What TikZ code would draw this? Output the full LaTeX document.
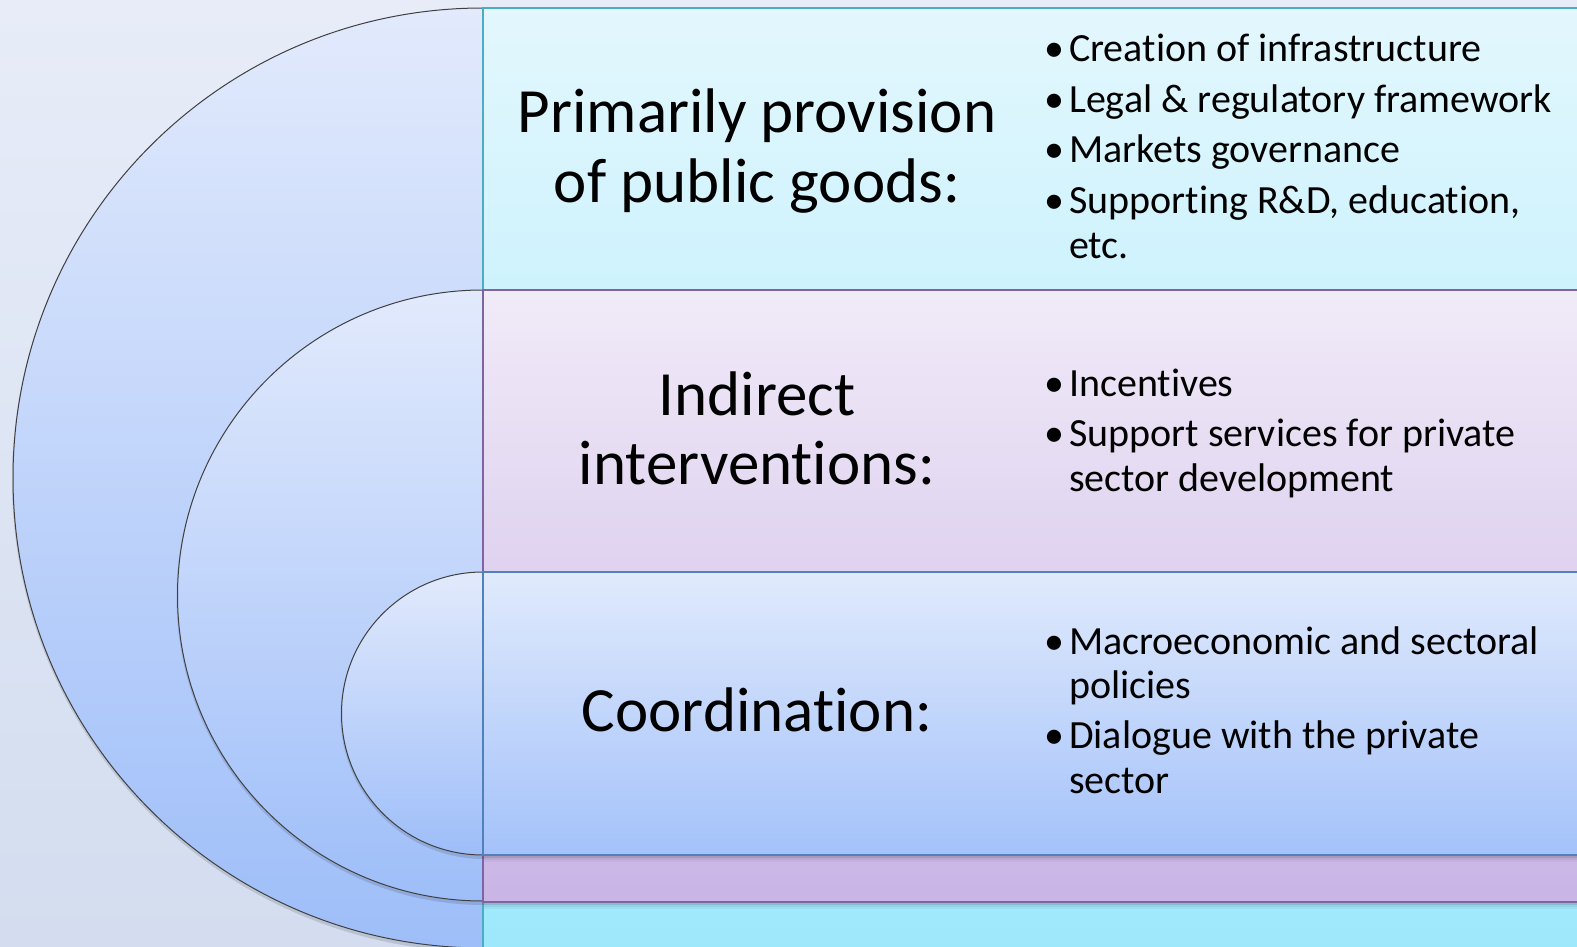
\documentclass[tikz,border=0pt]{standalone}
\usepackage{fontspec}
\setmainfont{Carlito}[Ligatures={NoCommon,NoRare,NoContextual}, RawFeature={-liga,-clig,-dlig}]
\definecolor{bgtop}{RGB}{231,236,248}
\definecolor{bgbot}{RGB}{211,221,239}
\definecolor{discTop}{RGB}{226,234,252}
\definecolor{discBot}{RGB}{158,190,249}
\definecolor{cyanTop}{RGB}{227,247,253}
\definecolor{cyanBot}{RGB}{157,232,252}
\definecolor{cyanLine}{RGB}{75,172,198}
\definecolor{purpTop}{RGB}{241,235,248}
\definecolor{purpBot}{RGB}{201,181,230}
\definecolor{purpLine}{RGB}{128,100,162}
\definecolor{blueTop}{RGB}{224,234,252}
\definecolor{blueBot}{RGB}{164,194,250}
\definecolor{blueLine}{RGB}{79,129,189}
\begin{document}
\begin{tikzpicture}[x=1pt,y=-1pt,
  title/.style={anchor=base, inner sep=0pt, font=\fontsize{63}{69}\selectfont},
  item/.style={anchor=base west, inner sep=0pt, font=\fontsize{40}{44}\selectfont},
  arcline/.style={draw=black!75, line width=1pt},
  arcshadow/.style={draw=black, opacity=0.12, line width=4pt},
  band/.style={line width=1.6pt},
  sh1/.style={draw=black, opacity=0.18, line width=2pt},
  sh2/.style={draw=black, opacity=0.09, line width=2pt},
  sh3/.style={draw=black, opacity=0.04, line width=2pt}]
\useasboundingbox (0,0) rectangle (1577,947);
\shade[top color=bgtop, bottom color=bgbot] (0,0) rectangle (1577,947);
% outer level
\draw[arcshadow] (484,10) arc[start angle=-90, end angle=-270, radius=470];
\shade[top color=discTop, bottom color=discBot] (483,8) arc[start angle=-90, end angle=-270, radius=470] -- cycle;
\draw[arcline] (483,8) arc[start angle=-90, end angle=-270, radius=470];
\shade[band, draw=cyanLine, top color=cyanTop, bottom color=cyanBot] (483,8) rectangle (1600,960);
% middle level
\draw[arcshadow] (484,292) arc[start angle=-90, end angle=-270, radius=305.5];
\shade[top color=discTop, bottom color=discBot] (483,290) arc[start angle=-90, end angle=-270, radius=305.5] -- cycle;
\draw[arcline] (483,290) arc[start angle=-90, end angle=-270, radius=305.5];
\shade[band, draw=purpLine, top color=purpTop, bottom color=purpBot] (483,290) rectangle (1600,902);
\draw[sh1] (484,904) -- (1600,904);
\draw[sh2] (484,906) -- (1600,906);
\draw[sh3] (484,908) -- (1600,908);
% inner level
\draw[arcshadow] (484,574) arc[start angle=-90, end angle=-270, radius=141.5];
\shade[top color=discTop, bottom color=discBot] (483,572) arc[start angle=-90, end angle=-270, radius=141.5] -- cycle;
\draw[arcline] (483,572) arc[start angle=-90, end angle=-270, radius=141.5];
\shade[band, draw=blueLine, top color=blueTop, bottom color=blueBot] (483,572) rectangle (1600,855);
\draw[sh1] (484,857) -- (1600,857);
\draw[sh2] (484,859) -- (1600,859);
\draw[sh3] (484,861) -- (1600,861);
% titles
\node[title] (t1a) at (757,133) {Primarily provision};
\node[title] (t1b) at (757,202) {of public goods:};
\node[title] (t2a) at (757,415) {Indirect};
\node[title] (t2b) at (757,484) {interventions:};
\node[title] (t3a) at (757,731) {Coordination:};
% bullets, top
\node[item] (a1) at (1069,62) {\llap{•\hspace{5pt}}Creation of infrastructure};
\node[item] (a2) at (1069,112.5) {\llap{•\hspace{5pt}}Legal \& regulatory framework};
\node[item] (a3) at (1069,163) {\llap{•\hspace{5pt}}Markets governance};
\node[item] (a4) at (1069,213.5) {\llap{•\hspace{5pt}}Supporting R\&D, education,};
\node[item] (a5) at (1069,258) {etc.};
% bullets, middle
\node[item] (b1) at (1069,396) {\llap{•\hspace{5pt}}Incentives};
\node[item] (b2) at (1069,446.5) {\llap{•\hspace{5pt}}Support services for private};
\node[item] (b3) at (1069,491) {sector development};
% bullets, bottom
\node[item] (c1) at (1069,654) {\llap{•\hspace{5pt}}Macroeconomic and sectoral};
\node[item] (c2) at (1069,698) {policies};
\node[item] (c3) at (1069,748.5) {\llap{•\hspace{5pt}}Dialogue with the private};
\node[item] (c4) at (1069,793) {sector};
\end{tikzpicture}
\end{document}
